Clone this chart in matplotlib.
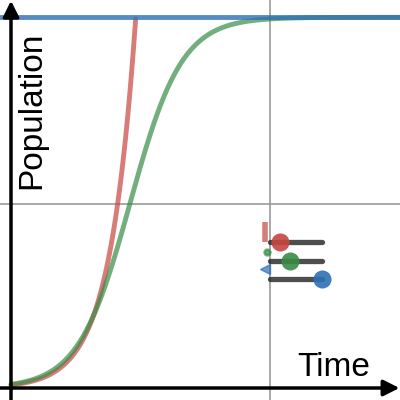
import numpy as np
from matplotlib import pyplot as plt

# model parameters
carrying_capacity = 20.15
growth_rate = 1.0
exp_start = 0.163
logistic_start = 0.2

# slider rows: y position, x start, x end, handle x
slider_y = [7.95, 6.93, 5.92]
slider_start = [10, 10, 10]
slider_end = [12, 12, 12]
slider_handle = [10.4, 10.78, 12.0]
slider_colors = ["#c74440", "#388c46", "#2d70b3"]
# little clipped labels to the left of each slider
tag_x = [9.8, 9.88, 9.82]
tag_y = [8.5, 7.4, 6.48]
tag_marker = ["|", "o", "<"]
tag_size = [14, 4, 7]
tag_edge = [4, 2, 1]

RED = "#c74440"
GREEN = "#388c46"
BLUE = "#2d70b3"

plt.rcParams["font.family"] = ["Liberation Sans", "DejaVu Sans"]

fig = plt.figure(figsize=(4, 4), dpi=100)
ax = fig.add_axes([0, 0, 1, 1])
ax.set_xlim(-0.425, 15.02)
ax.set_ylim(-0.652, 21.09)
ax.axis("off")

# grid
ax.axvline(10, color="#999999", lw=1.2, zorder=0)
ax.axhline(10, color="#999999", lw=1.2, zorder=0)

# axes with arrows
ax.annotate("", xy=(15.0, 0), xytext=(-0.425, 0),
            arrowprops=dict(arrowstyle="-|>", color="black", lw=2.5,
                            mutation_scale=24, shrinkA=0, shrinkB=0), zorder=5)
ax.annotate("", xy=(0, 21.05), xytext=(0, -0.652),
            arrowprops=dict(arrowstyle="-|>", color="black", lw=2.5,
                            mutation_scale=24, shrinkA=0, shrinkB=0), zorder=5)

t = np.linspace(0, 15.02, 800)
exp_curve = exp_start * np.exp(growth_rate * t)
exp_curve = np.where(exp_curve <= carrying_capacity, exp_curve, np.nan)
logistic = carrying_capacity / (1 + (carrying_capacity / logistic_start - 1)
                                * np.exp(-growth_rate * t))

ax.plot(t, exp_curve, color=RED, lw=3.5, alpha=0.7, solid_capstyle="round", zorder=3)
ax.plot(t, logistic, color=GREEN, lw=3.5, alpha=0.7, solid_capstyle="round", zorder=3)
ax.axhline(carrying_capacity, color=BLUE, lw=3.5, alpha=0.8, zorder=4)

# sliders
for y, x0, x1, h, c in zip(slider_y, slider_start, slider_end, slider_handle, slider_colors):
    ax.plot([x0, x1], [y, y], color="#222222", lw=3.8, alpha=0.8,
            solid_capstyle="round", zorder=6)
    ax.plot(h, y, "o", color=c, ms=13, alpha=0.9, mec="none", zorder=7)

for x, y, m, s, e, c in zip(tag_x, tag_y, tag_marker, tag_size, tag_edge, slider_colors):
    ax.plot(x, y, m, color=c, ms=s, mew=e, alpha=0.7, mec=c, zorder=6)

ax.text(11.04, 0.65, "Time", fontsize=24, ha="left", va="baseline")
ax.text(0.8, 15.1, "Population", fontsize=24, rotation=90, ha="center", va="center")

fig.savefig("out.png", dpi=100)
